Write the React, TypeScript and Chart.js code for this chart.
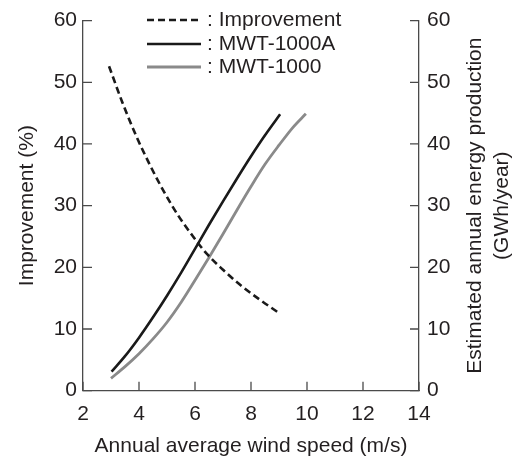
import React, { useEffect, useRef } from "react";
import { Chart, registerables } from "chart.js";
Chart.register(...registerables);

// Improvement (%) vs wind speed
const improvementX = [2.93, 3.4, 3.9, 4.4, 4.9, 5.4, 5.9, 6.4, 7.0, 7.6, 8.3, 9.0];
const improvementY = [52.6, 46.8, 41.3, 36.5, 32.2, 28.4, 25.2, 22.3, 19.6, 17.2, 14.8, 12.6];
// Estimated annual energy production (GWh/year)
const mwt1000aX = [3.02, 3.5, 4, 4.5, 5, 5.5, 6, 6.5, 7, 7.5, 8, 8.5, 9.04];
const mwt1000aY = [3.1, 5.6, 8.6, 11.9, 15.4, 19.1, 23.0, 26.9, 30.7, 34.4, 38.0, 41.4, 44.8];
const mwt1000X = [3.0, 3.5, 4, 4.5, 5, 5.5, 6, 6.5, 7, 7.5, 8, 8.5, 9, 9.5, 9.96];
const mwt1000Y = [2.0, 3.9, 6.0, 8.4, 11.1, 14.3, 17.9, 21.6, 25.4, 29.3, 33.1, 36.7, 39.8, 42.7, 44.9];

const xTicks = [2, 4, 6, 8, 10, 12, 14];
const yTicks = [0, 10, 20, 30, 40, 50, 60];

const seriesLabels = ["Improvement", "MWT-1000A", "MWT-1000"];

const FONT = "'Liberation Sans', Arial, sans-serif";
const TEXT = "#231f20";
const AXIS = "#4a4a4a";

const toPts = (xs: number[], ys: number[]) => xs.map((x, i) => ({ x, y: ys[i] }));

const inwardTicks = {
  id: "inwardTicks",
  afterDraw(chart: any) {
    const { ctx, chartArea, scales } = chart;
    const len = 9;
    ctx.save();
    ctx.strokeStyle = AXIS;
    ctx.lineWidth = 1.3;
    ctx.beginPath();
    xTicks.forEach((v) => {
      const px = scales.x.getPixelForValue(v);
      ctx.moveTo(px, chartArea.bottom);
      ctx.lineTo(px, chartArea.bottom - len);
    });
    yTicks.forEach((v) => {
      const py = scales.y.getPixelForValue(v);
      ctx.moveTo(chartArea.left, py);
      ctx.lineTo(chartArea.left + len, py);
      const py2 = scales.y2.getPixelForValue(v);
      ctx.moveTo(chartArea.right, py2);
      ctx.lineTo(chartArea.right - len, py2);
    });
    ctx.stroke();
    ctx.restore();
  },
};

const rightTitle = {
  id: "rightTitle",
  afterDraw(chart: any) {
    const { ctx, chartArea } = chart;
    const cy = (chartArea.top + chartArea.bottom) / 2;
    ctx.save();
    ctx.fillStyle = TEXT;
    ctx.font = `21px ${FONT}`;
    ctx.textAlign = "center";
    ctx.textBaseline = "middle";
    const lines = ["Estimated annual energy production", "(GWh/year)"];
    const xs = [475, 502];
    lines.forEach((t, i) => {
      ctx.save();
      ctx.translate(xs[i], cy);
      ctx.rotate(-Math.PI / 2);
      ctx.fillText(t, 0, 0);
      ctx.restore();
    });
    ctx.restore();
  },
};

const customLegend = {
  id: "customLegend",
  afterDraw(chart: any) {
    const { ctx } = chart;
    const rows = [20, 44, 67];
    ctx.save();
    ctx.font = `21px ${FONT}`;
    ctx.textBaseline = "middle";
    ctx.textAlign = "left";
    chart.data.datasets.forEach((ds: any, i: number) => {
      const y = rows[i];
      ctx.save();
      ctx.strokeStyle = ds.borderColor;
      ctx.lineWidth = ds.borderWidth;
      ctx.setLineDash(ds.borderDash || []);
      ctx.beginPath();
      ctx.moveTo(147, y);
      ctx.lineTo(201, y);
      ctx.stroke();
      ctx.restore();
      ctx.fillStyle = TEXT;
      ctx.fillText(": " + ds.label, 207, y);
    });
    ctx.restore();
  },
};

export default function App() {
  const ref = useRef<HTMLCanvasElement | null>(null);
  useEffect(() => {
    if (!ref.current) return;
    const chart = new Chart(ref.current, {
      type: "scatter",
      data: {
        datasets: [
          {
            label: seriesLabels[0],
            data: toPts(improvementX, improvementY),
            yAxisID: "y",
            showLine: true,
            borderColor: "#1a1a1a",
            borderWidth: 2.6,
            borderDash: [7, 4],
            pointRadius: 0,
            cubicInterpolationMode: "monotone",
            order: 0,
          },
          {
            label: seriesLabels[1],
            data: toPts(mwt1000aX, mwt1000aY),
            yAxisID: "y2",
            showLine: true,
            borderColor: "#1a1a1a",
            borderWidth: 2.6,
            pointRadius: 0,
            cubicInterpolationMode: "monotone",
            order: 1,
          },
          {
            label: seriesLabels[2],
            data: toPts(mwt1000X, mwt1000Y),
            yAxisID: "y2",
            showLine: true,
            borderColor: "#8a8a8a",
            borderWidth: 2.8,
            pointRadius: 0,
            cubicInterpolationMode: "monotone",
            order: 2,
          },
        ] as any,
      },
      options: {
        animation: false,
        responsive: false,
        layout: { padding: { top: 19.3, left: 0, right: 0, bottom: 0 } },
        plugins: { legend: { display: false }, tooltip: { enabled: false } },
        scales: {
          x: {
            type: "linear",
            position: "bottom",
            min: 2,
            max: 14,
            afterBuildTicks: (s: any) => { s.ticks = xTicks.map((v) => ({ value: v })); },
            afterFit: (s: any) => { s.height = 68.3; },
            grid: { display: false, drawTicks: false },
            border: { display: true, color: AXIS, width: 1.3 },
            ticks: { color: TEXT, font: { size: 21, family: FONT }, padding: 11 },
            title: { display: true, text: "Annual average wind speed (m/s)", color: TEXT, font: { size: 21, family: FONT }, padding: { top: 0, bottom: 0 } },
          },
          y: {
            type: "linear",
            position: "left",
            min: 0,
            max: 60,
            afterBuildTicks: (s: any) => { s.ticks = yTicks.map((v) => ({ value: v })); },
            afterFit: (s: any) => { s.width = 83; },
            grid: { display: false, drawTicks: false },
            border: { display: true, color: AXIS, width: 1.3 },
            ticks: { color: TEXT, font: { size: 21, family: FONT }, padding: 6 },
            title: { display: true, text: "Improvement (%)", color: TEXT, font: { size: 21, family: FONT }, padding: { top: 14.7, bottom: 0 } },
          },
          y2: {
            type: "linear",
            position: "right",
            min: 0,
            max: 60,
            afterBuildTicks: (s: any) => { s.ticks = yTicks.map((v) => ({ value: v })); },
            afterFit: (s: any) => { s.width = 109; },
            grid: { display: false, drawTicks: false },
            border: { display: true, color: AXIS, width: 1.3 },
            ticks: { color: TEXT, font: { size: 21, family: FONT }, padding: 8 },
          },
        },
      } as any,
      plugins: [inwardTicks, rightTitle, customLegend],
    });
    return () => chart.destroy();
  }, []);
  return (
    <div style={{ position: "absolute", left: 0, top: 0, width: 528, height: 459, background: "#fff" }}>
      <canvas ref={ref} width={528} height={459} />
    </div>
  );
}
